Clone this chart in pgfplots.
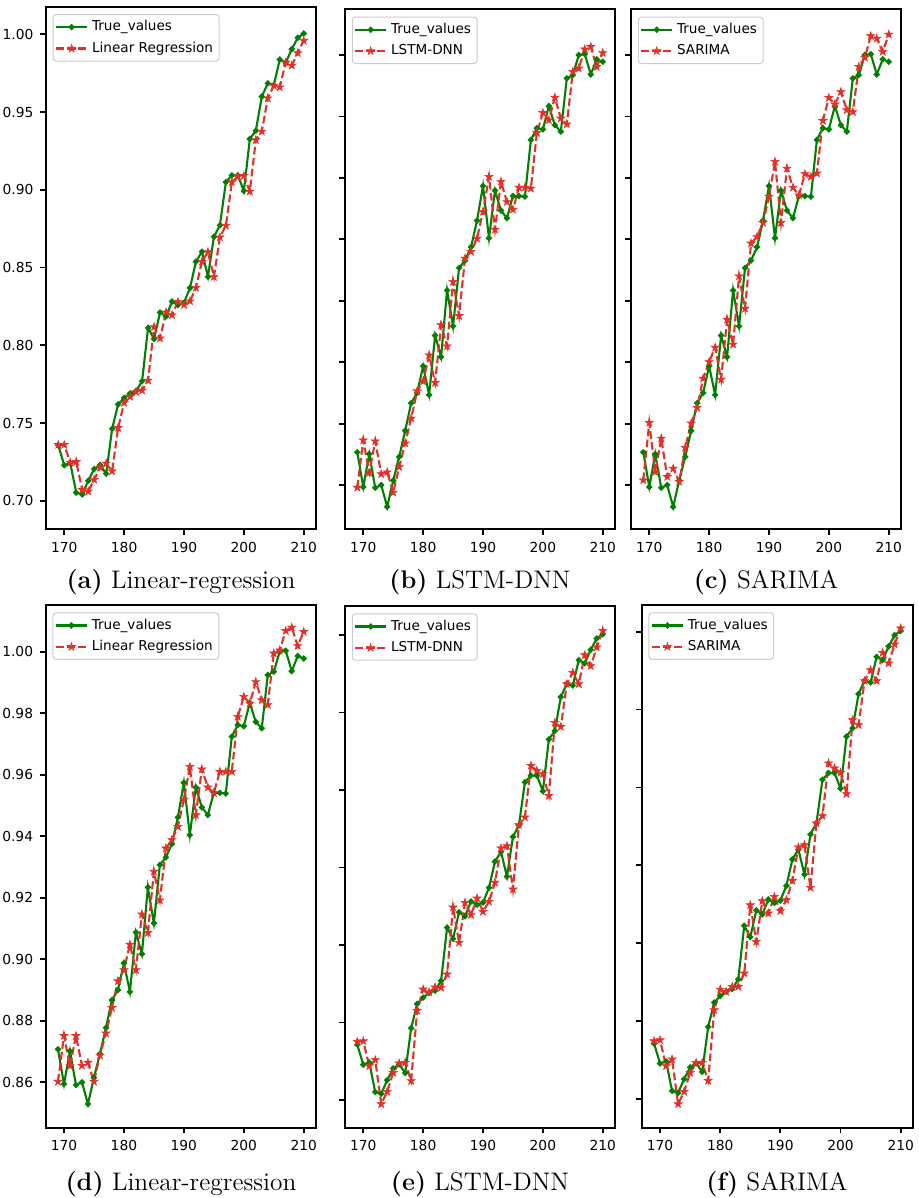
\documentclass[border=0pt]{standalone}
\usepackage{pgfplots}
\usepackage{pgfplotstable}
\pgfplotsset{compat=1.18}
\usepackage{fontspec}
\newfontfamily\dejavu{DejaVu Sans}
\definecolor{tgreen}{RGB}{0,128,0}
\definecolor{pred}{RGB}{228,48,40}

\pgfdeclareplotmark{fstar}{%
  \pgfpathmoveto{\pgfpointpolar{90}{\pgfplotmarksize}}%
  \pgfpathlineto{\pgfpointpolar{126}{0.382\pgfplotmarksize}}%
  \pgfpathlineto{\pgfpointpolar{162}{\pgfplotmarksize}}%
  \pgfpathlineto{\pgfpointpolar{198}{0.382\pgfplotmarksize}}%
  \pgfpathlineto{\pgfpointpolar{234}{\pgfplotmarksize}}%
  \pgfpathlineto{\pgfpointpolar{270}{0.382\pgfplotmarksize}}%
  \pgfpathlineto{\pgfpointpolar{306}{\pgfplotmarksize}}%
  \pgfpathlineto{\pgfpointpolar{342}{0.382\pgfplotmarksize}}%
  \pgfpathlineto{\pgfpointpolar{18}{\pgfplotmarksize}}%
  \pgfpathlineto{\pgfpointpolar{54}{0.382\pgfplotmarksize}}%
  \pgfpathclose
  \pgfusepathqfillstroke
}

% series A: true values, linear regression (a), LSTM-DNN (e), SARIMA (f)
\pgfplotstableread{
t true lr lstm sar
169 0.7357 0.7360 0.7376 0.7372
170 0.7228 0.7360 0.7380 0.7379
171 0.7242 0.7245 0.7219 0.7212
172 0.7052 0.7250 0.7258 0.7255
173 0.7040 0.7070 0.6974 0.6968
174 0.7128 0.7060 0.7054 0.7047
175 0.7204 0.7135 0.7176 0.7169
176 0.7230 0.7215 0.7237 0.7233
177 0.7174 0.7240 0.7241 0.7233
178 0.7463 0.7190 0.7123 0.7118
179 0.7620 0.7469 0.7576 0.7571
180 0.7661 0.7630 0.7714 0.7704
181 0.7691 0.7670 0.7695 0.7689
182 0.7706 0.7700 0.7727 0.7721
183 0.7769 0.7710 0.7725 0.7721
184 0.8112 0.7774 0.7811 0.7807
185 0.8040 0.8118 0.8243 0.8245
186 0.8211 0.8045 0.8015 0.8010
187 0.8185 0.8213 0.8273 0.8271
188 0.8281 0.8194 0.8194 0.8192
189 0.8259 0.8280 0.8301 0.8299
190 0.8274 0.8260 0.8215 0.8207
191 0.8369 0.8284 0.8280 0.8278
192 0.8538 0.8370 0.8403 0.8401
193 0.8602 0.8538 0.8624 0.8616
194 0.8441 0.8600 0.8639 0.8631
195 0.8698 0.8440 0.8359 0.8357
196 0.8772 0.8695 0.8774 0.8770
197 0.9050 0.8770 0.8824 0.8817
198 0.9093 0.9050 0.9157 0.9155
199 0.9093 0.9086 0.9125 0.9123
200 0.8993 0.9090 0.9103 0.9095
201 0.9327 0.8990 0.8963 0.8958
202 0.9381 0.9320 0.9434 0.9433
203 0.9600 0.9376 0.9408 0.9401
204 0.9685 0.9590 0.9684 0.9684
205 0.9674 0.9670 0.9757 0.9754
206 0.9838 0.9660 0.9684 0.9684
207 0.9818 0.9820 0.9871 0.9865
208 0.9905 0.9800 0.9800 0.9797
209 0.9978 0.9880 0.9921 0.9919
210 1.0005 0.9960 1.0028 1.0022
}\tabA

% series D: true values, linear regression (d), LSTM-DNN (b), SARIMA (c)
\pgfplotstableread{
t true lr lstm sar
169 0.8707 0.8602 0.8592 0.8616
170 0.8594 0.8751 0.8746 0.8803
171 0.8701 0.8653 0.8640 0.8643
172 0.8591 0.8751 0.8743 0.8752
173 0.8600 0.8654 0.8636 0.8627
174 0.8529 0.8664 0.8642 0.8654
175 0.8615 0.8602 0.8576 0.8611
176 0.8692 0.8687 0.8659 0.8722
177 0.8777 0.8759 0.8736 0.8801
178 0.8867 0.8842 0.8817 0.8852
179 0.8900 0.8929 0.8906 0.8947
180 0.8987 0.8965 0.8938 0.9001
181 0.8894 0.9048 0.9023 0.9048
182 0.9087 0.8965 0.8933 0.8944
183 0.9017 0.9146 0.9121 0.9139
184 0.9234 0.9086 0.9052 0.9058
185 0.9117 0.9285 0.9262 0.9280
186 0.9307 0.9192 0.9151 0.9175
187 0.9331 0.9361 0.9338 0.9387
188 0.9375 0.9388 0.9360 0.9408
189 0.9461 0.9431 0.9403 0.9454
190 0.9574 0.9518 0.9490 0.9539
191 0.9404 0.9626 0.9604 0.9653
192 0.9559 0.9469 0.9432 0.9454
193 0.9494 0.9618 0.9588 0.9631
194 0.9469 0.9559 0.9522 0.9569
195 0.9541 0.9541 0.9497 0.9544
196 0.9541 0.9610 0.9569 0.9613
197 0.9539 0.9610 0.9569 0.9604
198 0.9724 0.9610 0.9566 0.9615
199 0.9762 0.9789 0.9747 0.9786
200 0.9758 0.9854 0.9812 0.9861
201 0.9834 0.9832 0.9788 0.9840
202 0.9772 0.9902 0.9862 0.9880
203 0.9751 0.9843 0.9794 0.9821
204 0.9924 0.9827 0.9775 0.9815
205 0.9935 0.9995 0.9946 0.9962
206 1.0000 1.0005 0.9957 0.9992
207 1.0003 1.0068 1.0019 1.0062
208 0.9937 1.0079 1.0027 1.0054
209 0.9986 1.0019 0.9962 1.0011
210 0.9978 1.0065 1.0007 1.0067
}\tabD

\pgfplotsset{
  panel/.style={
    scale only axis, anchor=north west,
    xmin=166.95, xmax=212.05, xtick={170,180,190,200,210},
    axis line style={line width=1pt},
    tick style={line width=0.9pt, black},
    tick align=outside, major tick length=2.8pt,
    xtick pos=bottom, ytick pos=left,
    tick label style={font=\dejavu\fontsize{6.9}{8}\selectfont},
    /pgf/number format/assume math mode=true,
    xticklabel style={/pgf/number format/1000 sep={}},
    legend cell align=left,
    legend style={at={(0.025,0.986)}, anchor=north west, draw=black!20,
      line width=0.5pt, rounded corners=1.5pt, fill=white, fill opacity=0.8,
      text opacity=1, draw opacity=1, font=\dejavu\fontsize{6.8}{8}\selectfont,
      inner sep=1pt, row sep=0pt, nodes={inner sep=2pt}},
    legend image code/.code={\draw[mark repeat=2,mark phase=2] plot coordinates {(0cm,0cm) (0.27cm,0cm) (0.54cm,0cm)};},
  },
  truel/.style={tgreen, line width=1.05pt, mark=*, mark size=0.95pt, mark options={solid}},
  predl/.style={pred, line width=1.05pt, dash pattern=on 3.85pt off 1.67pt, mark=fstar, mark size=2.1pt, mark options={solid, fill=pred, line width=0.3pt}},
  topA/.style={ytick={0.70,0.75,0.80,0.85,0.90,0.95,1.00}},
  topD/.style={ytick={0.86,0.88,0.90,0.92,0.94,0.96,0.98,1.00}},
}

\begin{document}
\begin{tikzpicture}
\useasboundingbox (0,0) rectangle (459pt,-599pt);

% (a)
\begin{axis}[panel, at={(23pt,-3.35pt)}, width=135pt, height=261.3pt,
  ymin=0.6816, ymax=1.0178, topA,
  yticklabels={0.70,0.75,0.80,0.85,0.90,0.95,1.00}]
\addplot[truel] table[x=t,y=true]{\tabA};
\addlegendentry{True\_values}
\addplot[predl] table[x=t,y=lr]{\tabA};
\addlegendentry{Linear Regression}
\end{axis}

% (b)
\begin{axis}[panel, at={(172.5pt,-4.65pt)}, width=135pt, height=260pt,
  ymin=0.8456, ymax=1.0149, topD, yticklabels={}]
\addplot[truel] table[x=t,y=true]{\tabD};
\addlegendentry{True\_values}
\addplot[predl] table[x=t,y=lstm]{\tabD};
\addlegendentry{LSTM-DNN}
\end{axis}

% (c)
\begin{axis}[panel, at={(315.5pt,-4.65pt)}, width=135pt, height=260pt,
  ymin=0.8456, ymax=1.0149, topD, yticklabels={}]
\addplot[truel] table[x=t,y=true]{\tabD};
\addlegendentry{True\_values}
\addplot[predl] table[x=t,y=sar]{\tabD};
\addlegendentry{SARIMA}
\end{axis}

% (d)
\begin{axis}[panel, at={(22.85pt,-302.5pt)}, width=135.15pt, height=261.35pt,
  ymin=0.8452, ymax=1.0152, topD,
  yticklabels={0.86,0.88,0.90,0.92,0.94,0.96,0.98,1.00}]
\addplot[truel] table[x=t,y=true]{\tabD};
\addlegendentry{True\_values}
\addplot[predl] table[x=t,y=lr]{\tabD};
\addlegendentry{Linear Regression}
\end{axis}

% (e)
\begin{axis}[panel, at={(172.5pt,-303pt)}, width=135pt, height=260.85pt,
  ymin=0.6821, ymax=1.0187, topA, yticklabels={}]
\addplot[truel] table[x=t,y=true]{\tabA};
\addlegendentry{True\_values}
\addplot[predl] table[x=t,y=lstm]{\tabA};
\addlegendentry{LSTM-DNN}
\end{axis}

% (f)
\begin{axis}[panel, at={(320.85pt,-302.5pt)}, width=135.65pt, height=261.35pt,
  ymin=0.6816, ymax=1.0171, topA, yticklabels={}]
\addplot[truel] table[x=t,y=true]{\tabA};
\addlegendentry{True\_values}
\addplot[predl] table[x=t,y=sar]{\tabA};
\addlegendentry{SARIMA}
\end{axis}

\tikzset{subcap/.style={anchor=base, font=\fontsize{12.7}{14}\selectfont, inner sep=0pt}}
\node[subcap] at (90.5pt,-294pt) {\textbf{(a)} Linear-regression};
\node[subcap] at (240pt,-294pt) {\textbf{(b)} LSTM-DNN};
\node[subcap] at (383pt,-294pt) {\textbf{(c)} SARIMA};
\node[subcap] at (90.5pt,-595pt) {\textbf{(d)} Linear-regression};
\node[subcap] at (240pt,-595pt) {\textbf{(e)} LSTM-DNN};
\node[subcap] at (388.5pt,-595pt) {\textbf{(f)} SARIMA};
\end{tikzpicture}
\end{document}
